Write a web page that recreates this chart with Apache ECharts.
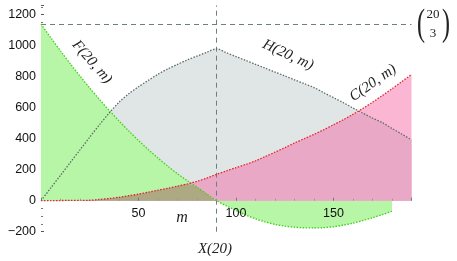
<!DOCTYPE html>
<html><head><meta charset="utf-8">
<script src="https://cdn.jsdelivr.net/npm/echarts@6/dist/echarts.min.js"></script>
<style>html,body{margin:0;padding:0;background:#fff}#c{width:457px;height:261px}</style>
</head><body><div id="c"></div>
<script>
// m values (number of edges)
const mVals = [0,5,10,15,20,25,30,35,40,45,50,55,60,65,70,75,80,85,90,95,100,105,110,115,120,125,130,135,140,145,150,155,160,165,170,175,180,185,190];
// F(20,m)
const F = [1140,1052,966,884,804,727,653,582,515,450,388,330,275,223,174,129,87,43,0,-33,-63,-92,-117,-137,-153,-164,-171,-175,-176,-174,-168,-158,-145,-128,-110,-90,-68,null,null];
// H(20,m)
const H = [0,82,164,246,328,410,490,566,635,690,735,776,816,850,880,908,933,957,980,955,930,905,880,855,830,805,780,755,730,697,665,633,598,565,533,504,466,430,392];
// C(20,m)
const C = [0,0,1,2,2,3,8,14,22,32,42,55,68,80,94,108,125,146,170,192,213,234,257,285,313,342,372,400,428,458,490,522,557,595,635,678,722,768,815];
const xTicks = [50,100,150];
const yTicks = [-200,0,200,400,600,800,1000,1200];
const binomTop = 1140;   // C(20,3)
const xMark = 90;        // X(20)
const yMin = -200, yMax = 1260;

const pairs = a => mVals.map((m,i)=>[m,a[i]]);
const minPairs = (a,b) => mVals.map((m,i)=> (a[i]==null||b[i]==null)?[m,null]:[m,Math.min(a[i],b[i])]);
const Fpos = F.map(v => v==null?null:Math.max(v,0));

const fill = (name,data,color,z) => ({
  type:'line', name, data, symbol:'none', smooth:0.3, z,
  lineStyle:{width:0}, areaStyle:{color, opacity:1}, silent:true
});
const line = (name,data,color,z) => ({
  type:'line', name, data, symbol:'none', smooth:0.3, z,
  lineStyle:{width:1.3, color, type:[1.5,1.5]}, silent:true
});
const serif = '"Liberation Serif", "DejaVu Serif", serif';

const H_PX = 261 - 5.4 - 29.3;
const zeroOffset = -H_PX * (0 - yMin) / (yMax - yMin);

const chart = echarts.init(document.getElementById('c'), null, {renderer:'canvas'});
chart.setOption({
  animation:false,
  grid:{left:41, right:45.5, top:5.4, bottom:29.3},
  xAxis:{type:'value', min:0, max:190, interval:50, position:'bottom', offset:zeroOffset, z:30,
    axisLine:{show:true, onZero:false, lineStyle:{color:'rgba(0,0,0,0)'}},
    axisTick:{show:true, inside:true, length:3, lineStyle:{color:'#777'}},
    minorTick:{show:true, splitNumber:5, length:2, lineStyle:{color:'#999'}},
    splitLine:{show:false},
    axisLabel:{margin:6, color:'#111', fontSize:12.5, fontFamily:'Liberation Sans, Arial, sans-serif',
      formatter: v => xTicks.includes(v)? String(v):''}
  },
  yAxis:{type:'value', min:yMin, max:yMax, interval:200,
    axisLine:{show:false},
    axisTick:{show:true, inside:true, length:3, lineStyle:{color:'#555'}},
    minorTick:{show:true, splitNumber:4, length:2, lineStyle:{color:'#777'}},
    splitLine:{show:false},
    axisLabel:{margin:5, color:'#111', fontSize:12.5, fontFamily:'Liberation Sans, Arial, sans-serif',
      formatter: v => yTicks.includes(v)? (v<0?'\u2212'+(-v):String(v)):'' , showMaxLabel:false}
  },
  series:[
    fill('Hfill', pairs(H), '#e0e6e5', 1),
    fill('Ffill', pairs(F), '#b6f6a6', 2),
    fill('Cfill', pairs(C), '#fbb6d3', 3),
    fill('CHfill', minPairs(C,H), '#e9a8c5', 4),
    fill('CFfill', minPairs(C,Fpos), '#aca983', 5),
    Object.assign(line('H', pairs(H), '#5f6b6b', 10), {
      markLine:{silent:true, symbol:'none', label:{show:false},
        lineStyle:{color:'#6b7f7d', type:[5,4], width:1},
        data:[ [{coord:[0,binomTop]},{coord:[190,binomTop]}],
               [{coord:[xMark,yMin]},{coord:[xMark,yMax]}] ]}
    }),
    line('F', pairs(F), '#3fcf1a', 11),
    line('C', pairs(C), '#e8232a', 12)
  ],
  graphic:[
    {type:'text', x:92, y:62, rotation:-0.85, style:{text:'F(20, m)', font:'italic 15px '+serif, fill:'#222', align:'center', verticalAlign:'middle'}},
    {type:'text', x:288, y:55, rotation:-0.43, style:{text:'H(20, m)', font:'italic 15px '+serif, fill:'#222', align:'center', verticalAlign:'middle'}},
    {type:'text', x:373, y:83, rotation:0.61, style:{text:'C(20, m)', font:'italic 15px '+serif, fill:'#222', align:'center', verticalAlign:'middle'}},
    {type:'text', x:182, y:218, style:{text:'m', font:'italic 16px '+serif, fill:'#222', align:'center', verticalAlign:'middle'}},
    {type:'text', x:215, y:249, style:{text:'X(20)', font:'italic 15px '+serif, fill:'#222', align:'center', verticalAlign:'middle'}},
    {type:'text', x:421, y:25, scaleY:1.6, style:{text:'(', font:'24px '+serif, fill:'#222', align:'center', verticalAlign:'middle'}},
    {type:'text', x:446, y:25, scaleY:1.6, style:{text:')', font:'24px '+serif, fill:'#222', align:'center', verticalAlign:'middle'}},
    {type:'text', x:433, y:15, style:{text:'20', font:'13px '+serif, fill:'#222', align:'center', verticalAlign:'middle'}},
    {type:'text', x:433, y:34, style:{text:'3', font:'13px '+serif, fill:'#222', align:'center', verticalAlign:'middle'}}
  ]
});
</script></body></html>
